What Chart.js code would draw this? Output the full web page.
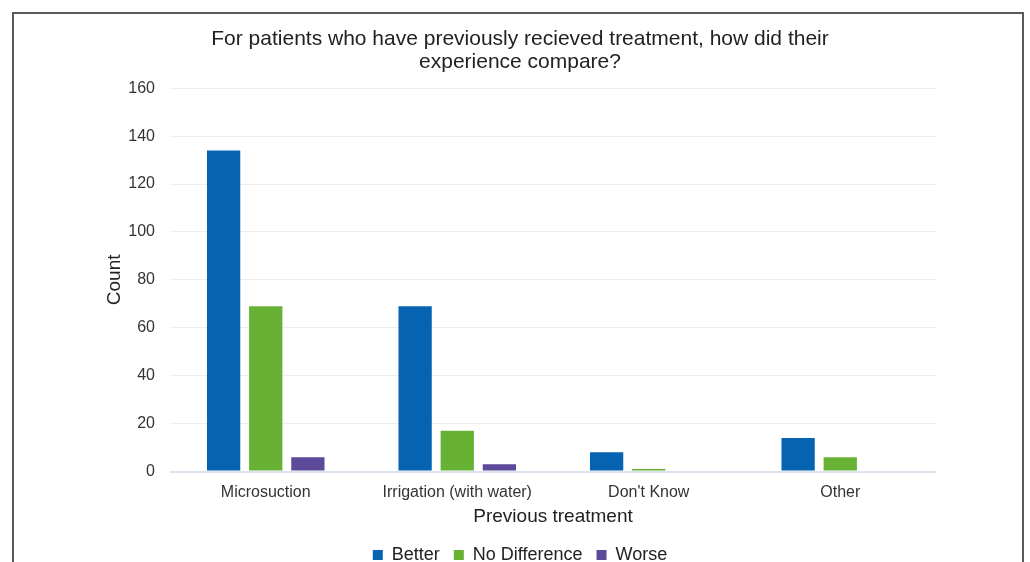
<!DOCTYPE html>
<html>
<head>
<meta charset="utf-8">
<script src="https://cdn.jsdelivr.net/npm/chart.js@4"></script>
<style>
  body { margin: 0; background: #fff; overflow: hidden; }
  #frame {
    position: absolute; left: 12px; top: 12px;
    width: 1008px; height: 600px;
    border: 2px solid #5a5a5a; background: #fff;
  }
  #wrap { position: relative; width: 1008px; height: 570px; }
</style>
</head>
<body>
<div id="frame"><div id="wrap"><canvas id="chart"></canvas></div></div>
<script>
// tratamientos previos y respuestas
const categories = ["Microsuction", "Irrigation (with water)", "Don't Know", "Other"];
const better = [134, 69, 8, 14];
const noDifference = [69, 17, 1, 6];
const worse = [6, 3, 0, 0];
const yTicks = [0, 20, 40, 60, 80, 100, 120, 140, 160];

const FONT = "'Liberation Sans', Arial, sans-serif";

const ds = (label, data, color) => ({
  label,
  data,
  backgroundColor: color,
  borderWidth: 0,
  categoryPercentage: 0.66,
  barPercentage: 0.79,
});

new Chart(document.getElementById("chart"), {
  type: "bar",
  data: {
    labels: categories,
    datasets: [
      ds("Better", better, "#0563b2"),
      ds("No Difference", noDifference, "#67b234"),
      ds("Worse", worse, "#5e4a9a"),
    ],
  },
  options: {
    responsive: true,
    maintainAspectRatio: false,
    animation: false,
    layout: { padding: { left: 90, right: 86, top: 14, bottom: 10 } },
    plugins: {
      title: {
        display: true,
        text: ["For patients who have previously recieved treatment, how did their", "experience compare?"],
        color: "#222",
        font: { family: FONT, size: 21, weight: "normal", lineHeight: 1.1 },
        padding: { top: 0, bottom: 14 },
      },
      legend: {
        position: "bottom",
        labels: {
          color: "#222",
          font: { family: FONT, size: 18 },
          boxWidth: 10,
          boxHeight: 10,
          padding: 14,
        },
      },
      tooltip: { enabled: false },
    },
    scales: {
      x: {
        grid: { display: false },
        border: { display: false },
        ticks: { color: "#333", font: { family: FONT, size: 16, lineHeight: 1.1 }, padding: 4, maxRotation: 0 },
        title: {
          display: true,
          text: "Previous treatment",
          color: "#222",
          font: { family: FONT, size: 19, lineHeight: 1.1 },
          padding: { top: 1, bottom: 5 },
        },
      },
      y: {
        min: 0,
        max: 160,
        afterBuildTicks: (scale) => { scale.ticks = yTicks.map((v) => ({ value: v })); },
        afterFit: (scale) => { scale.width = 66; },
        grid: {
          drawTicks: false,
          color: (ctx) => (ctx.tick && ctx.tick.value === 0 ? "#dbe3ec" : "#eeeeee"),
          lineWidth: (ctx) => (ctx.tick && ctx.tick.value === 0 ? 2 : 1),
        },
        border: { display: false },
        ticks: { color: "#333", font: { family: FONT, size: 16 }, padding: 15 },
        title: {
          display: true,
          text: "Count",
          color: "#222",
          font: { family: FONT, size: 19, lineHeight: 1.1 },
          padding: { top: 0, bottom: 0 },
        },
      },
    },
  },
});
</script>
</body>
</html>
